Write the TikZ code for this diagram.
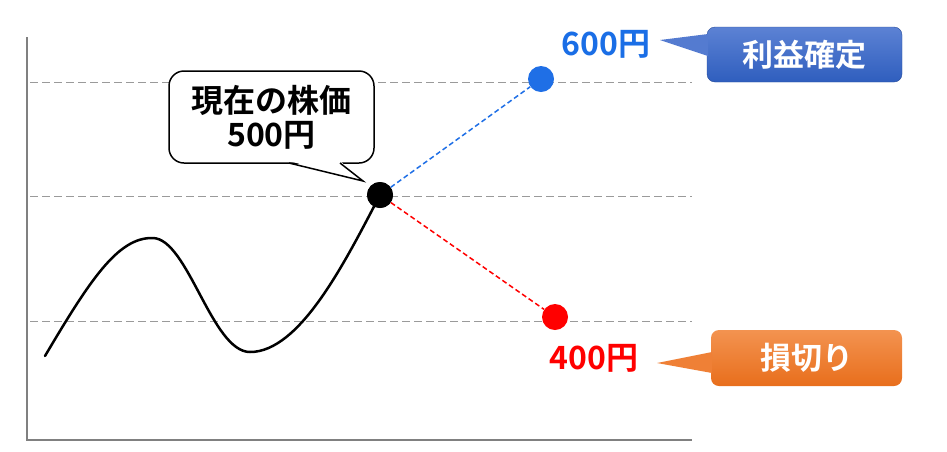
\documentclass[tikz,border=0pt]{standalone}
\usepackage{fontspec}
\usetikzlibrary{calc}
\setmainfont{Noto Sans CJK JP}[BoldFont={* Bold}]
\newfontfamily\jpb{Noto Sans CJK JP Bold}
\definecolor{axisgray}{HTML}{808080}
\definecolor{gridgray}{HTML}{9A9A9A}
\definecolor{dotblue}{HTML}{1F6FE6}
\definecolor{txtblue}{HTML}{1A6EE6}
\definecolor{bluetop}{HTML}{5C82D4}
\definecolor{bluebot}{HTML}{2F5EBE}
\definecolor{bluemid}{HTML}{4A73CC}
\definecolor{orgtop}{HTML}{F39350}
\definecolor{orgbot}{HTML}{E86E1C}
\definecolor{orgmid}{HTML}{EF8036}
\tikzset{
  axisline/.style={axisgray, line width=2.7pt},
  gridline/.style={gridgray, line width=0.9pt, dash pattern=on 8pt off 4pt},
  priceline/.style={black, line width=2.5pt},
  dotnode/.style={circle, inner sep=0pt, minimum size=26pt},
  lbl/.style={font=\jpb\fontsize{32}{34}\selectfont, inner sep=0pt},
  tagbox/.style={rounded corners=8pt, minimum width=195pt, minimum height=55pt, text=white, font=\jpb\fontsize{31}{34}\selectfont},
}
\begin{document}
\begin{tikzpicture}[x=1pt,y=-1pt]
\useasboundingbox (0,0) rectangle (947,451);
% grid
\coordinate (g1l) at (30,82);  \coordinate (g1r) at (692,82);
\coordinate (g2l) at (30,196); \coordinate (g2r) at (692,196);
\coordinate (g3l) at (30,321); \coordinate (g3r) at (692,321);
\draw[gridline] (g1l) -- (g1r);
\draw[gridline] (g2l) -- (g2r);
\draw[gridline] (g3l) -- (g3r);
% axes
\coordinate (ytop) at (27,37);
\coordinate (orig) at (27,440);
\coordinate (xend) at (692,440);
\draw[axisline] (ytop) -- (orig) -- (xend);
% price curve
\coordinate (c0) at (45,356);
\node[dotnode, fill=black] (now) at (380,195) {};
\draw[priceline, line cap=round] (c0) .. controls (90,280) and (118,237) .. (153,238)
  .. controls (188,239) and (212,352) .. (250,352)
  .. controls (300,352) and (345,262) .. (now.center);
\node[dotnode, fill=black] at (380,195) {};
% targets
\node[dotnode, fill=dotblue] (up) at (541,79) {};
\node[dotnode, fill=red] (down) at (555,317) {};
\draw[dotblue, line width=1.5pt, dash pattern=on 5pt off 3pt] (now) -- (up);
\draw[red, line width=1.5pt, dash pattern=on 5pt off 3pt] (now) -- (down);
% price labels
\node[lbl, text=txtblue] (p600) at (606,44) {600円};
\node[lbl, text=red] (p400) at (594,358) {400円};
% current price bubble
\node[draw=black, line width=1.5pt, fill=white, rounded corners=15pt,
      minimum width=205pt, minimum height=92pt, align=center, inner sep=0pt,
      font=\jpb\fontsize{32}{34}\selectfont] (bubble) at (271.5,117) {現在の株価\\500円};
\coordinate (btip) at (363,181);
\coordinate (bb1) at (289,163);
\coordinate (bb2) at (340,163);
\fill[white] ($(bb1)+(0,-2)$) -- (btip) -- ($(bb2)+(0,-2)$) -- cycle;
\draw[black, line width=1.5pt, line join=miter] (bb1) -- (btip) -- (bb2);
% blue tag
\coordinate (ttip) at (660,40);
\node[tagbox, top color=bluetop, bottom color=bluebot, draw=bluebot!80!black, line width=0.4pt] (kakutei) at (804.5,54.5) {利益確定};
\fill[bluetop!55!bluemid] (ttip) -- (708,34) -- (708,56) -- cycle;
% orange tag
\coordinate (otip) at (657,363);
\node[tagbox, top color=orgtop, bottom color=orgbot, minimum width=191pt, minimum height=56pt] (sonkiri) at (806.5,358) {損切り};
\fill[orgmid] (otip) -- (712,352) -- (712,373) -- cycle;
\end{tikzpicture}
\end{document}
